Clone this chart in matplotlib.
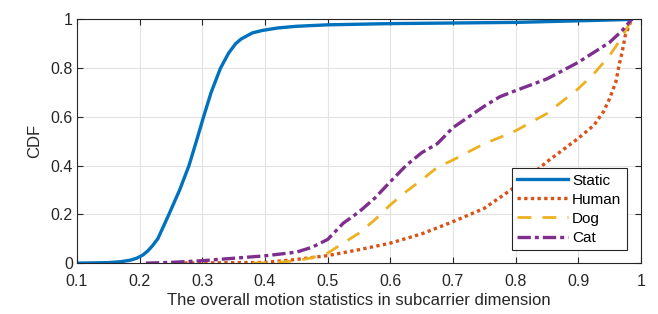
import matplotlib.pyplot as plt
import numpy as np

plt.rcParams['font.family'] = ['Liberation Sans', 'DejaVu Sans']

# CDF curves
x_static = [0.1, 0.15, 0.17, 0.185, 0.195, 0.205, 0.213, 0.22, 0.229, 0.2467, 0.2638, 0.2787, 0.2905, 0.302,
            0.314, 0.329, 0.342, 0.353, 0.362, 0.38, 0.396, 0.42, 0.45, 0.5, 0.6, 0.8, 0.985]
y_static = [0.0, 0.002, 0.006, 0.012, 0.02, 0.033, 0.05, 0.07, 0.1, 0.2, 0.3, 0.4, 0.5, 0.6,
            0.7, 0.8, 0.862, 0.9, 0.92, 0.945, 0.955, 0.965, 0.972, 0.978, 0.983, 0.988, 1.0]

x_human = [0.25, 0.4, 0.45, 0.5, 0.55, 0.6, 0.65, 0.7, 0.75, 0.8, 0.825, 0.85, 0.875, 0.9, 0.925,
           0.94, 0.95, 0.96, 0.965, 0.97, 0.975, 0.985]
y_human = [0.0, 0.003, 0.015, 0.031, 0.055, 0.082, 0.12, 0.17, 0.225, 0.314, 0.362, 0.416, 0.464, 0.512, 0.566,
           0.62, 0.675, 0.743, 0.81, 0.865, 0.933, 1.0]

x_dog = [0.38, 0.42, 0.45, 0.475, 0.5, 0.525, 0.55, 0.575, 0.6, 0.625, 0.65, 0.675, 0.7, 0.725, 0.75,
         0.775, 0.8, 0.85, 0.9, 0.925, 0.95, 0.97, 0.985]
y_dog = [0.0, 0.003, 0.01, 0.022, 0.041, 0.082, 0.123, 0.177, 0.239, 0.293, 0.341, 0.393, 0.423, 0.457, 0.49,
         0.516, 0.543, 0.614, 0.716, 0.777, 0.852, 0.927, 1.0]

x_cat = [0.21, 0.25, 0.3, 0.35, 0.4, 0.45, 0.475, 0.5, 0.525, 0.55, 0.575, 0.6, 0.625, 0.65, 0.675, 0.7,
         0.725, 0.75, 0.775, 0.8, 0.85, 0.9, 0.925, 0.95, 0.97, 0.985]
y_cat = [0.0, 0.003, 0.01, 0.02, 0.03, 0.045, 0.065, 0.097, 0.164, 0.21, 0.266, 0.334, 0.40, 0.453, 0.49, 0.556,
         0.60, 0.644, 0.683, 0.708, 0.756, 0.824, 0.865, 0.906, 0.954, 1.0]

fig = plt.figure(figsize=(6.58, 3.14), dpi=100)
ax = fig.add_axes([0.117, 0.162, 0.857, 0.776])

ax.plot(x_static, y_static, color='#0072BD', linewidth=2.4, label='Static')
ax.plot(x_human, y_human, color='#D95319', linewidth=2.4, linestyle=(0, (1, 1)), label='Human')
ax.plot(x_dog, y_dog, color='#EDB120', linewidth=2.0, linestyle=(0, (5, 4)), label='Dog')
ax.plot(x_cat, y_cat, color='#7E2F8E', linewidth=2.4, linestyle=(0, (4, 1.2, 1.2, 1.2)), label='Cat')

ax.set_xlim(0.1, 1)
ax.set_ylim(0, 1)
ax.set_xticks(np.arange(0.1, 1.01, 0.1))
ax.set_xticklabels(['0.1', '0.2', '0.3', '0.4', '0.5', '0.6', '0.7', '0.8', '0.9', '1'])
ax.set_yticks(np.arange(0, 1.01, 0.2))
ax.set_yticklabels(['0', '0.2', '0.4', '0.6', '0.8', '1'])

ax.grid(True, color='#e3e3e3', linewidth=0.8)
ax.set_axisbelow(True)
for s in ax.spines.values():
    s.set_linewidth(0.8)
    s.set_color('#262626')
ax.tick_params(direction='in', length=4, width=0.8, labelsize=11.5, colors='#262626',
               top=True, right=True)
ax.tick_params(axis='x', pad=8)
ax.tick_params(axis='y', pad=3)

ax.set_xlabel('The overall motion statistics in subcarrier dimension', fontsize=12, color='#262626',
              labelpad=3)
ax.set_ylabel('CDF', fontsize=12, color='#262626', labelpad=6)

leg = ax.legend(loc='lower right', bbox_to_anchor=(0.975, 0.053), fontsize=11, fancybox=False,
                framealpha=1, edgecolor='#262626', handlelength=3.3, handletextpad=0.3,
                borderpad=0.35, labelspacing=0.33, borderaxespad=0)
leg.get_frame().set_linewidth(0.8)

plt.savefig('out.png', dpi=100)
